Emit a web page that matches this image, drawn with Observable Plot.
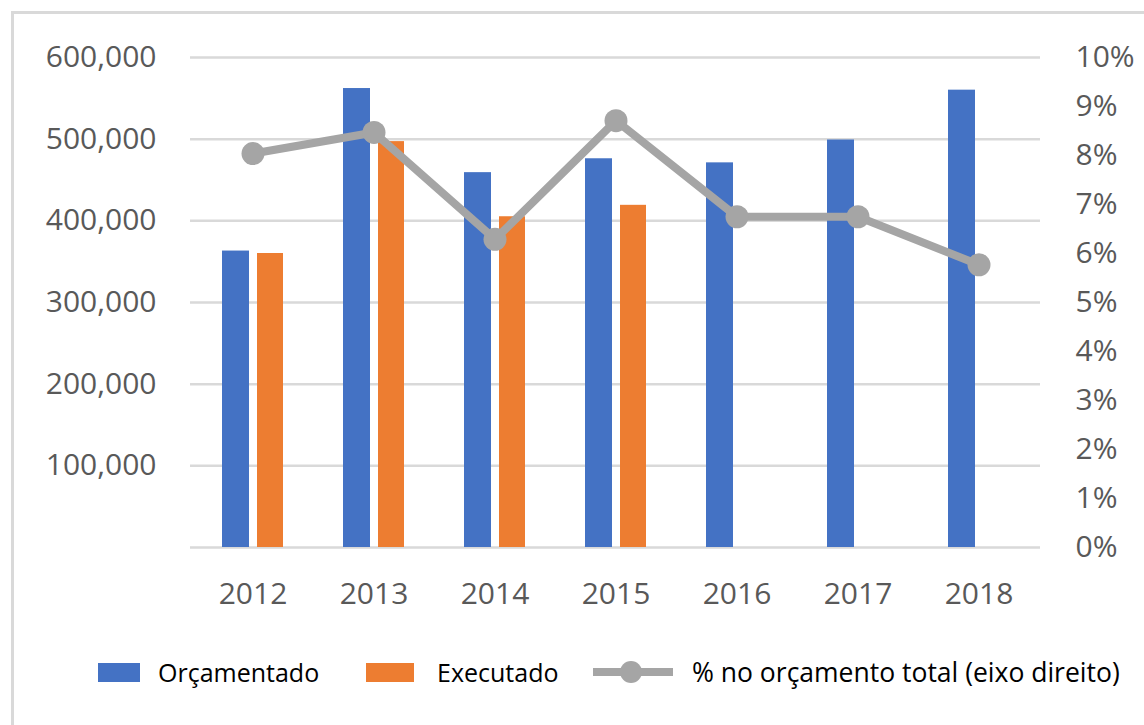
<!DOCTYPE html>
<html>
<head>
<meta charset="utf-8">
<script src="https://cdn.jsdelivr.net/npm/d3@7"></script>
<script src="https://cdn.jsdelivr.net/npm/@observablehq/plot@0.6"></script>
<style>
  html, body { margin: 0; padding: 0; background: #fff; overflow: hidden; }
  body { width: 1144px; height: 725px; position: relative; font-family: "Open Sans", sans-serif; }
  #frame { position: absolute; left: 11px; top: 11px; width: 1200px; height: 800px;
           border-left: 3px solid #d9d9d9; border-top: 3px solid #d9d9d9; }
  #chart { position: absolute; left: 0; top: 0; }
  .legend { position: absolute; top: 650px; height: 44px; display: flex; align-items: center;
            font-size: 25px; color: #000; white-space: nowrap; }
  .sw { display: inline-block; width: 42px; height: 19px; }
</style>
</head>
<body>
<div id="frame"></div>
<div id="chart"></div>
<div class="legend" style="left:98px"><span class="sw" style="background:#4472C4"></span></div>
<div class="legend" style="left:158px">Orçamentado</div>
<div class="legend" style="left:366px"><span class="sw" style="background:#ED7D31;width:48px"></span></div>
<div class="legend" style="left:437px">Executado</div>
<div class="legend" style="left:593px"><svg width="80" height="30"><line x1="0" y1="15" x2="80" y2="15" stroke="#A5A5A5" stroke-width="8"/><circle cx="38" cy="15" r="11" fill="#A5A5A5"/></svg></div>
<div class="legend" style="left:692px;font-size:26.5px">% no orçamento total (eixo direito)</div>
<script>
const years = ["2012", "2013", "2014", "2015", "2016", "2017", "2018"];
const orcamentado = [363000, 562000, 459000, 476000, 471000, 499000, 560000];
const executado = [360000, 497000, 405000, 419000, null, null, null];
const pctTotal = [8.04, 8.47, 6.29, 8.71, 6.75, 6.75, 5.77];
const leftTicks = [100000, 200000, 300000, 400000, 500000, 600000];
const gridTicks = [0, 100000, 200000, 300000, 400000, 500000, 600000];
const rightTicks = [0, 1, 2, 3, 4, 5, 6, 7, 8, 9, 10];

const leftMax = 600000, rightMax = 10;
const toLeft = p => p * leftMax / rightMax;

const orcData = years.map((y, i) => ({year: y, value: orcamentado[i]}));
const exeData = years.map((y, i) => ({year: y, value: executado[i]})).filter(d => d.value != null);
const pctData = years.map((y, i) => ({year: y, value: toLeft(pctTotal[i])}));

const chart = Plot.plot({
  width: 1144,
  height: 620,
  marginTop: 57,
  marginBottom: 73,
  marginLeft: 190,
  marginRight: 104,
  style: {fontFamily: "'Open Sans', sans-serif", fontSize: "30px", color: "#595959", background: "transparent"},
  x: {type: "band", domain: years, padding: 0},
  y: {domain: [0, leftMax]},
  marks: [
    Plot.ruleY(gridTicks, {stroke: "#d9d9d9", strokeWidth: 2.5}),
    Plot.barY(orcData, {x: "year", y: "value", fill: "#4472C4", insetLeft: 30, insetRight: 64}),
    Plot.barY(exeData, {x: "year", y: "value", fill: "#ED7D31", insetLeft: 65, insetRight: 30}),
    Plot.line(pctData, {x: "year", y: "value", stroke: "#A5A5A5", strokeWidth: 8, strokeLinejoin: "round", strokeLinecap: "round"}),
    Plot.dot(pctData, {x: "year", y: "value", r: 11.5, fill: "#A5A5A5", stroke: "none"}),
    Plot.axisY({ticks: leftTicks, tickSize: 0, tickPadding: 34, tickFormat: d3.format(","), label: null, fontSize: 30}),
    Plot.axisY({anchor: "right", ticks: rightTicks.map(toLeft), tickSize: 0, tickPadding: 35,
                tickFormat: d => Math.round(d / leftMax * rightMax) + "%", label: null, fontSize: 30}),
    Plot.axisX({tickSize: 0, tickPadding: 35, label: null, fontSize: 30})
  ]
});
document.getElementById("chart").appendChild(chart);
</script>
</body>
</html>
